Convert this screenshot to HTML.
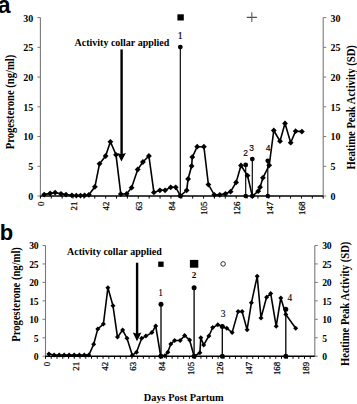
<!DOCTYPE html>
<html><head><meta charset="utf-8"><style>
html,body{margin:0;padding:0;background:#fff;}
body{width:357px;height:404px;position:relative;overflow:hidden;font-family:"Liberation Serif",serif;}
</style></head><body>
<svg width="357" height="404" viewBox="0 0 357 404" style="position:absolute;left:0;top:0">
<rect width="357" height="404" fill="#fff"/>
<text x="-2.3" y="12.5" font-size="23" text-anchor="start" font-weight="bold" font-family="Liberation Sans" fill="#000">a</text>
<text x="-0.2" y="240.2" font-size="22" text-anchor="start" font-weight="bold" font-family="Liberation Sans" fill="#000">b</text>
<line x1="40.4" y1="17.6" x2="40.4" y2="196" stroke="#7a7a7a" stroke-width="1.1"/>
<line x1="323.2" y1="17.6" x2="323.2" y2="196" stroke="#7a7a7a" stroke-width="1.1"/>
<line x1="37.4" y1="196" x2="40.4" y2="196" stroke="#7a7a7a" stroke-width="1"/>
<line x1="323.2" y1="196" x2="326.2" y2="196" stroke="#7a7a7a" stroke-width="1"/>
<text x="33.3" y="199.9" font-size="10" text-anchor="end" font-weight="bold" font-family="Liberation Serif" fill="#000">0</text>
<text x="330.5" y="199.9" font-size="10" text-anchor="start" font-weight="bold" font-family="Liberation Serif" fill="#000">0</text>
<line x1="37.4" y1="166.27" x2="40.4" y2="166.27" stroke="#7a7a7a" stroke-width="1"/>
<line x1="323.2" y1="166.27" x2="326.2" y2="166.27" stroke="#7a7a7a" stroke-width="1"/>
<text x="33.3" y="170.17" font-size="10" text-anchor="end" font-weight="bold" font-family="Liberation Serif" fill="#000">5</text>
<text x="330.5" y="170.17" font-size="10" text-anchor="start" font-weight="bold" font-family="Liberation Serif" fill="#000">5</text>
<line x1="37.4" y1="136.53" x2="40.4" y2="136.53" stroke="#7a7a7a" stroke-width="1"/>
<line x1="323.2" y1="136.53" x2="326.2" y2="136.53" stroke="#7a7a7a" stroke-width="1"/>
<text x="33.3" y="140.43" font-size="10" text-anchor="end" font-weight="bold" font-family="Liberation Serif" fill="#000">10</text>
<text x="330.5" y="140.43" font-size="10" text-anchor="start" font-weight="bold" font-family="Liberation Serif" fill="#000">10</text>
<line x1="37.4" y1="106.8" x2="40.4" y2="106.8" stroke="#7a7a7a" stroke-width="1"/>
<line x1="323.2" y1="106.8" x2="326.2" y2="106.8" stroke="#7a7a7a" stroke-width="1"/>
<text x="33.3" y="110.7" font-size="10" text-anchor="end" font-weight="bold" font-family="Liberation Serif" fill="#000">15</text>
<text x="330.5" y="110.7" font-size="10" text-anchor="start" font-weight="bold" font-family="Liberation Serif" fill="#000">15</text>
<line x1="37.4" y1="77.07" x2="40.4" y2="77.07" stroke="#7a7a7a" stroke-width="1"/>
<line x1="323.2" y1="77.07" x2="326.2" y2="77.07" stroke="#7a7a7a" stroke-width="1"/>
<text x="33.3" y="80.97" font-size="10" text-anchor="end" font-weight="bold" font-family="Liberation Serif" fill="#000">20</text>
<text x="330.5" y="80.97" font-size="10" text-anchor="start" font-weight="bold" font-family="Liberation Serif" fill="#000">20</text>
<line x1="37.4" y1="47.33" x2="40.4" y2="47.33" stroke="#7a7a7a" stroke-width="1"/>
<line x1="323.2" y1="47.33" x2="326.2" y2="47.33" stroke="#7a7a7a" stroke-width="1"/>
<text x="33.3" y="51.23" font-size="10" text-anchor="end" font-weight="bold" font-family="Liberation Serif" fill="#000">25</text>
<text x="330.5" y="51.23" font-size="10" text-anchor="start" font-weight="bold" font-family="Liberation Serif" fill="#000">25</text>
<line x1="37.4" y1="17.6" x2="40.4" y2="17.6" stroke="#7a7a7a" stroke-width="1"/>
<line x1="323.2" y1="17.6" x2="326.2" y2="17.6" stroke="#7a7a7a" stroke-width="1"/>
<text x="33.3" y="21.5" font-size="10" text-anchor="end" font-weight="bold" font-family="Liberation Serif" fill="#000">30</text>
<text x="330.5" y="21.5" font-size="10" text-anchor="start" font-weight="bold" font-family="Liberation Serif" fill="#000">30</text>
<line x1="40.4" y1="196" x2="323.2" y2="196" stroke="#000" stroke-width="1.6"/>
<line x1="40.4" y1="196" x2="40.4" y2="198.6" stroke="#000" stroke-width="1"/>
<line x1="51.28" y1="196" x2="51.28" y2="198.6" stroke="#000" stroke-width="1"/>
<line x1="62.15" y1="196" x2="62.15" y2="198.6" stroke="#000" stroke-width="1"/>
<line x1="73.03" y1="196" x2="73.03" y2="198.6" stroke="#000" stroke-width="1"/>
<line x1="83.91" y1="196" x2="83.91" y2="198.6" stroke="#000" stroke-width="1"/>
<line x1="94.78" y1="196" x2="94.78" y2="198.6" stroke="#000" stroke-width="1"/>
<line x1="105.66" y1="196" x2="105.66" y2="198.6" stroke="#000" stroke-width="1"/>
<line x1="116.54" y1="196" x2="116.54" y2="198.6" stroke="#000" stroke-width="1"/>
<line x1="127.42" y1="196" x2="127.42" y2="198.6" stroke="#000" stroke-width="1"/>
<line x1="138.29" y1="196" x2="138.29" y2="198.6" stroke="#000" stroke-width="1"/>
<line x1="149.17" y1="196" x2="149.17" y2="198.6" stroke="#000" stroke-width="1"/>
<line x1="160.05" y1="196" x2="160.05" y2="198.6" stroke="#000" stroke-width="1"/>
<line x1="170.92" y1="196" x2="170.92" y2="198.6" stroke="#000" stroke-width="1"/>
<line x1="181.8" y1="196" x2="181.8" y2="198.6" stroke="#000" stroke-width="1"/>
<line x1="192.68" y1="196" x2="192.68" y2="198.6" stroke="#000" stroke-width="1"/>
<line x1="203.55" y1="196" x2="203.55" y2="198.6" stroke="#000" stroke-width="1"/>
<line x1="214.43" y1="196" x2="214.43" y2="198.6" stroke="#000" stroke-width="1"/>
<line x1="225.31" y1="196" x2="225.31" y2="198.6" stroke="#000" stroke-width="1"/>
<line x1="236.18" y1="196" x2="236.18" y2="198.6" stroke="#000" stroke-width="1"/>
<line x1="247.06" y1="196" x2="247.06" y2="198.6" stroke="#000" stroke-width="1"/>
<line x1="257.94" y1="196" x2="257.94" y2="198.6" stroke="#000" stroke-width="1"/>
<line x1="268.82" y1="196" x2="268.82" y2="198.6" stroke="#000" stroke-width="1"/>
<line x1="279.69" y1="196" x2="279.69" y2="198.6" stroke="#000" stroke-width="1"/>
<line x1="290.57" y1="196" x2="290.57" y2="198.6" stroke="#000" stroke-width="1"/>
<line x1="301.45" y1="196" x2="301.45" y2="198.6" stroke="#000" stroke-width="1"/>
<line x1="312.32" y1="196" x2="312.32" y2="198.6" stroke="#000" stroke-width="1"/>
<line x1="323.2" y1="196" x2="323.2" y2="198.6" stroke="#000" stroke-width="1"/>
<text x="44.19" y="201.7" font-size="8.8" text-anchor="end" font-weight="normal" font-family="Liberation Serif" fill="#000" transform="rotate(-90 44.19 201.7)" stroke="#000" stroke-width="0.25">0</text>
<text x="76.82" y="201.7" font-size="8.8" text-anchor="end" font-weight="normal" font-family="Liberation Serif" fill="#000" transform="rotate(-90 76.82 201.7)" stroke="#000" stroke-width="0.25">21</text>
<text x="109.45" y="201.7" font-size="8.8" text-anchor="end" font-weight="normal" font-family="Liberation Serif" fill="#000" transform="rotate(-90 109.45 201.7)" stroke="#000" stroke-width="0.25">42</text>
<text x="142.08" y="201.7" font-size="8.8" text-anchor="end" font-weight="normal" font-family="Liberation Serif" fill="#000" transform="rotate(-90 142.08 201.7)" stroke="#000" stroke-width="0.25">63</text>
<text x="174.72" y="201.7" font-size="8.8" text-anchor="end" font-weight="normal" font-family="Liberation Serif" fill="#000" transform="rotate(-90 174.72 201.7)" stroke="#000" stroke-width="0.25">84</text>
<text x="207.35" y="201.7" font-size="8.8" text-anchor="end" font-weight="normal" font-family="Liberation Serif" fill="#000" transform="rotate(-90 207.35 201.7)" stroke="#000" stroke-width="0.25">105</text>
<text x="239.98" y="201.7" font-size="8.8" text-anchor="end" font-weight="normal" font-family="Liberation Serif" fill="#000" transform="rotate(-90 239.98 201.7)" stroke="#000" stroke-width="0.25">126</text>
<text x="272.61" y="201.7" font-size="8.8" text-anchor="end" font-weight="normal" font-family="Liberation Serif" fill="#000" transform="rotate(-90 272.61 201.7)" stroke="#000" stroke-width="0.25">147</text>
<text x="305.24" y="201.7" font-size="8.8" text-anchor="end" font-weight="normal" font-family="Liberation Serif" fill="#000" transform="rotate(-90 305.24 201.7)" stroke="#000" stroke-width="0.25">168</text>
<text x="0" y="0" font-size="10.6" text-anchor="middle" font-weight="bold" font-family="Liberation Serif" fill="#000" transform="translate(14 102) rotate(-90) scale(1 1.1)">Progesterone (ng/ml)</text>
<text x="0" y="0" font-size="10.6" text-anchor="middle" font-weight="bold" font-family="Liberation Serif" fill="#000" transform="translate(354.8 107.3) rotate(-90) scale(1 1.1)">Heatime Peak Activity (SD)</text>
<line x1="180.3" y1="47.1" x2="180.3" y2="196" stroke="#000" stroke-width="1.15"/>
<line x1="245.7" y1="164.9" x2="245.7" y2="196" stroke="#000" stroke-width="1.15"/>
<line x1="252.3" y1="159.1" x2="252.3" y2="196" stroke="#000" stroke-width="1.15"/>
<line x1="267.8" y1="160.8" x2="267.8" y2="196" stroke="#000" stroke-width="1.15"/>
<polyline points="44.2,194.6 50.1,193.4 55.1,192.6 61,193.8 66,194.6 71.9,195.3 76.3,195.6 80.5,195.6 84.6,195.3 88.9,194.8 94.9,186.8 99.5,163.8 105.6,156 110.4,141.8 116,154.8 120.8,194.1 126.7,193.8 131.6,187.7 137.7,169.5 142.9,162 148.9,156 153.9,192.4 159.9,190.3 165.1,190.3 170.7,187.3 175.7,187.3 180.4,195.8 186.7,190.3 188.1,179 191.6,166 192.3,157.1 197.2,146.7 203.9,146.7 208.4,184.6 214.3,194.8 219.8,194.8 225.5,193.8 230.6,191.7 236.1,182.4 241,165.5 247.5,175.6 252.3,196 258.2,191.2 260.1,187.2 262.9,177.8 269.2,165.3 273.8,130.5 280,141.2 285,123.4 290.7,142.7 295.6,131.2 301.9,131.6" fill="none" stroke="#000" stroke-width="1.6" stroke-linejoin="miter"/>
<path d="M44.2 191.7L47.1 194.6L44.2 197.5L41.3 194.6Z" fill="#000"/>
<path d="M50.1 190.5L53 193.4L50.1 196.3L47.2 193.4Z" fill="#000"/>
<path d="M55.1 189.7L58 192.6L55.1 195.5L52.2 192.6Z" fill="#000"/>
<path d="M61 190.9L63.9 193.8L61 196.7L58.1 193.8Z" fill="#000"/>
<path d="M66 191.7L68.9 194.6L66 197.5L63.1 194.6Z" fill="#000"/>
<path d="M71.9 192.4L74.8 195.3L71.9 198.2L69 195.3Z" fill="#000"/>
<path d="M76.3 192.7L79.2 195.6L76.3 198.5L73.4 195.6Z" fill="#000"/>
<path d="M80.5 192.7L83.4 195.6L80.5 198.5L77.6 195.6Z" fill="#000"/>
<path d="M84.6 192.4L87.5 195.3L84.6 198.2L81.7 195.3Z" fill="#000"/>
<path d="M88.9 191.9L91.8 194.8L88.9 197.7L86 194.8Z" fill="#000"/>
<path d="M94.9 183.9L97.8 186.8L94.9 189.7L92 186.8Z" fill="#000"/>
<path d="M99.5 160.9L102.4 163.8L99.5 166.7L96.6 163.8Z" fill="#000"/>
<path d="M105.6 153.1L108.5 156L105.6 158.9L102.7 156Z" fill="#000"/>
<path d="M110.4 138.9L113.3 141.8L110.4 144.7L107.5 141.8Z" fill="#000"/>
<path d="M116 151.9L118.9 154.8L116 157.7L113.1 154.8Z" fill="#000"/>
<path d="M120.8 191.2L123.7 194.1L120.8 197L117.9 194.1Z" fill="#000"/>
<path d="M126.7 190.9L129.6 193.8L126.7 196.7L123.8 193.8Z" fill="#000"/>
<path d="M131.6 184.8L134.5 187.7L131.6 190.6L128.7 187.7Z" fill="#000"/>
<path d="M137.7 166.6L140.6 169.5L137.7 172.4L134.8 169.5Z" fill="#000"/>
<path d="M142.9 159.1L145.8 162L142.9 164.9L140 162Z" fill="#000"/>
<path d="M148.9 153.1L151.8 156L148.9 158.9L146 156Z" fill="#000"/>
<path d="M153.9 189.5L156.8 192.4L153.9 195.3L151 192.4Z" fill="#000"/>
<path d="M159.9 187.4L162.8 190.3L159.9 193.2L157 190.3Z" fill="#000"/>
<path d="M165.1 187.4L168 190.3L165.1 193.2L162.2 190.3Z" fill="#000"/>
<path d="M170.7 184.4L173.6 187.3L170.7 190.2L167.8 187.3Z" fill="#000"/>
<path d="M175.7 184.4L178.6 187.3L175.7 190.2L172.8 187.3Z" fill="#000"/>
<path d="M180.4 192.9L183.3 195.8L180.4 198.7L177.5 195.8Z" fill="#000"/>
<path d="M186.7 187.4L189.6 190.3L186.7 193.2L183.8 190.3Z" fill="#000"/>
<path d="M188.1 176.1L191 179L188.1 181.9L185.2 179Z" fill="#000"/>
<path d="M191.6 163.1L194.5 166L191.6 168.9L188.7 166Z" fill="#000"/>
<path d="M192.3 154.2L195.2 157.1L192.3 160L189.4 157.1Z" fill="#000"/>
<path d="M197.2 143.8L200.1 146.7L197.2 149.6L194.3 146.7Z" fill="#000"/>
<path d="M203.9 143.8L206.8 146.7L203.9 149.6L201 146.7Z" fill="#000"/>
<path d="M208.4 181.7L211.3 184.6L208.4 187.5L205.5 184.6Z" fill="#000"/>
<path d="M214.3 191.9L217.2 194.8L214.3 197.7L211.4 194.8Z" fill="#000"/>
<path d="M219.8 191.9L222.7 194.8L219.8 197.7L216.9 194.8Z" fill="#000"/>
<path d="M225.5 190.9L228.4 193.8L225.5 196.7L222.6 193.8Z" fill="#000"/>
<path d="M230.6 188.8L233.5 191.7L230.6 194.6L227.7 191.7Z" fill="#000"/>
<path d="M236.1 179.5L239 182.4L236.1 185.3L233.2 182.4Z" fill="#000"/>
<path d="M241 162.6L243.9 165.5L241 168.4L238.1 165.5Z" fill="#000"/>
<path d="M247.5 172.7L250.4 175.6L247.5 178.5L244.6 175.6Z" fill="#000"/>
<path d="M252.3 193.1L255.2 196L252.3 198.9L249.4 196Z" fill="#000"/>
<path d="M258.2 188.3L261.1 191.2L258.2 194.1L255.3 191.2Z" fill="#000"/>
<path d="M260.1 184.3L263 187.2L260.1 190.1L257.2 187.2Z" fill="#000"/>
<path d="M262.9 174.9L265.8 177.8L262.9 180.7L260 177.8Z" fill="#000"/>
<path d="M269.2 162.4L272.1 165.3L269.2 168.2L266.3 165.3Z" fill="#000"/>
<path d="M273.8 127.6L276.7 130.5L273.8 133.4L270.9 130.5Z" fill="#000"/>
<path d="M280 138.3L282.9 141.2L280 144.1L277.1 141.2Z" fill="#000"/>
<path d="M285 120.5L287.9 123.4L285 126.3L282.1 123.4Z" fill="#000"/>
<path d="M290.7 139.8L293.6 142.7L290.7 145.6L287.8 142.7Z" fill="#000"/>
<path d="M295.6 128.3L298.5 131.2L295.6 134.1L292.7 131.2Z" fill="#000"/>
<path d="M301.9 128.7L304.8 131.6L301.9 134.5L299 131.6Z" fill="#000"/>
<circle cx="180.3" cy="47.1" r="2.4" fill="#000"/>
<circle cx="180.3" cy="196" r="2.3" fill="#000"/>
<circle cx="245.7" cy="164.9" r="2.4" fill="#000"/>
<circle cx="245.7" cy="196" r="2.3" fill="#000"/>
<circle cx="252.3" cy="159.1" r="2.4" fill="#000"/>
<circle cx="252.3" cy="196" r="2.3" fill="#000"/>
<circle cx="267.8" cy="160.8" r="2.4" fill="#000"/>
<circle cx="267.8" cy="196" r="2.3" fill="#000"/>
<text x="180.2" y="38.9" font-size="9.8" text-anchor="middle" font-weight="normal" font-family="Liberation Serif" fill="#000" stroke="#000" stroke-width="0.2">1</text>
<text x="245.6" y="156.3" font-size="8.4" text-anchor="middle" font-weight="normal" font-family="Liberation Sans" fill="#000" stroke="#000" stroke-width="0.15">2</text>
<text x="251.7" y="150.6" font-size="8.4" text-anchor="middle" font-weight="normal" font-family="Liberation Sans" fill="#000" stroke="#000" stroke-width="0.15">3</text>
<text x="268.2" y="151.3" font-size="8.4" text-anchor="middle" font-weight="normal" font-family="Liberation Sans" fill="#000" stroke="#000" stroke-width="0.15">4</text>
<rect x="177.4" y="14.3" width="6.4" height="6.2" fill="#000"/>
<path d="M246.8 17.3H256.9" stroke="#222" stroke-width="1"/><path d="M251.8 12.3V21.9" stroke="#666" stroke-width="1.2"/>
<line x1="121.6" y1="49.4" x2="121.6" y2="156" stroke="#000" stroke-width="2.4"/>
<path d="M117.3 153.0L121.6 154.2L125.9 153.0L121.4 161.6Z" fill="#000"/>
<text x="74.5" y="46.2" font-size="10" text-anchor="start" font-weight="bold" font-family="Liberation Serif" fill="#000">Activity collar applied</text>
<line x1="45.5" y1="245.5" x2="45.5" y2="356.2" stroke="#7a7a7a" stroke-width="1.1"/>
<line x1="314.8" y1="245.5" x2="314.8" y2="356.2" stroke="#7a7a7a" stroke-width="1.1"/>
<line x1="42.5" y1="356.2" x2="45.5" y2="356.2" stroke="#7a7a7a" stroke-width="1"/>
<line x1="314.8" y1="356.2" x2="317.8" y2="356.2" stroke="#7a7a7a" stroke-width="1"/>
<text x="38.4" y="360.1" font-size="9.7" text-anchor="end" font-weight="bold" font-family="Liberation Serif" fill="#000" letter-spacing="-0.3">0</text>
<text x="322.3" y="360.1" font-size="9.7" text-anchor="start" font-weight="bold" font-family="Liberation Serif" fill="#000" letter-spacing="-0.3">0</text>
<line x1="42.5" y1="337.75" x2="45.5" y2="337.75" stroke="#7a7a7a" stroke-width="1"/>
<line x1="314.8" y1="337.75" x2="317.8" y2="337.75" stroke="#7a7a7a" stroke-width="1"/>
<text x="38.4" y="341.65" font-size="9.7" text-anchor="end" font-weight="bold" font-family="Liberation Serif" fill="#000" letter-spacing="-0.3">5</text>
<text x="322.3" y="341.65" font-size="9.7" text-anchor="start" font-weight="bold" font-family="Liberation Serif" fill="#000" letter-spacing="-0.3">5</text>
<line x1="42.5" y1="319.3" x2="45.5" y2="319.3" stroke="#7a7a7a" stroke-width="1"/>
<line x1="314.8" y1="319.3" x2="317.8" y2="319.3" stroke="#7a7a7a" stroke-width="1"/>
<text x="38.4" y="323.2" font-size="9.7" text-anchor="end" font-weight="bold" font-family="Liberation Serif" fill="#000" letter-spacing="-0.3">10</text>
<text x="322.3" y="323.2" font-size="9.7" text-anchor="start" font-weight="bold" font-family="Liberation Serif" fill="#000" letter-spacing="-0.3">10</text>
<line x1="42.5" y1="300.85" x2="45.5" y2="300.85" stroke="#7a7a7a" stroke-width="1"/>
<line x1="314.8" y1="300.85" x2="317.8" y2="300.85" stroke="#7a7a7a" stroke-width="1"/>
<text x="38.4" y="304.75" font-size="9.7" text-anchor="end" font-weight="bold" font-family="Liberation Serif" fill="#000" letter-spacing="-0.3">15</text>
<text x="322.3" y="304.75" font-size="9.7" text-anchor="start" font-weight="bold" font-family="Liberation Serif" fill="#000" letter-spacing="-0.3">15</text>
<line x1="42.5" y1="282.4" x2="45.5" y2="282.4" stroke="#7a7a7a" stroke-width="1"/>
<line x1="314.8" y1="282.4" x2="317.8" y2="282.4" stroke="#7a7a7a" stroke-width="1"/>
<text x="38.4" y="286.3" font-size="9.7" text-anchor="end" font-weight="bold" font-family="Liberation Serif" fill="#000" letter-spacing="-0.3">20</text>
<text x="322.3" y="286.3" font-size="9.7" text-anchor="start" font-weight="bold" font-family="Liberation Serif" fill="#000" letter-spacing="-0.3">20</text>
<line x1="42.5" y1="263.95" x2="45.5" y2="263.95" stroke="#7a7a7a" stroke-width="1"/>
<line x1="314.8" y1="263.95" x2="317.8" y2="263.95" stroke="#7a7a7a" stroke-width="1"/>
<text x="38.4" y="267.85" font-size="9.7" text-anchor="end" font-weight="bold" font-family="Liberation Serif" fill="#000" letter-spacing="-0.3">25</text>
<text x="322.3" y="267.85" font-size="9.7" text-anchor="start" font-weight="bold" font-family="Liberation Serif" fill="#000" letter-spacing="-0.3">25</text>
<line x1="42.5" y1="245.5" x2="45.5" y2="245.5" stroke="#7a7a7a" stroke-width="1"/>
<line x1="314.8" y1="245.5" x2="317.8" y2="245.5" stroke="#7a7a7a" stroke-width="1"/>
<text x="38.4" y="249.4" font-size="9.7" text-anchor="end" font-weight="bold" font-family="Liberation Serif" fill="#000" letter-spacing="-0.3">30</text>
<text x="322.3" y="249.4" font-size="9.7" text-anchor="start" font-weight="bold" font-family="Liberation Serif" fill="#000" letter-spacing="-0.3">30</text>
<line x1="45.5" y1="356.2" x2="314.8" y2="356.2" stroke="#000" stroke-width="1.6"/>
<line x1="45.5" y1="356.2" x2="45.5" y2="358.8" stroke="#000" stroke-width="1"/>
<line x1="51.26" y1="356.2" x2="51.26" y2="358.8" stroke="#000" stroke-width="1"/>
<line x1="57.01" y1="356.2" x2="57.01" y2="358.8" stroke="#000" stroke-width="1"/>
<line x1="62.77" y1="356.2" x2="62.77" y2="358.8" stroke="#000" stroke-width="1"/>
<line x1="68.52" y1="356.2" x2="68.52" y2="358.8" stroke="#000" stroke-width="1"/>
<line x1="74.28" y1="356.2" x2="74.28" y2="358.8" stroke="#000" stroke-width="1"/>
<line x1="80.04" y1="356.2" x2="80.04" y2="358.8" stroke="#000" stroke-width="1"/>
<line x1="85.79" y1="356.2" x2="85.79" y2="358.8" stroke="#000" stroke-width="1"/>
<line x1="91.55" y1="356.2" x2="91.55" y2="358.8" stroke="#000" stroke-width="1"/>
<line x1="97.3" y1="356.2" x2="97.3" y2="358.8" stroke="#000" stroke-width="1"/>
<line x1="103.06" y1="356.2" x2="103.06" y2="358.8" stroke="#000" stroke-width="1"/>
<line x1="108.82" y1="356.2" x2="108.82" y2="358.8" stroke="#000" stroke-width="1"/>
<line x1="114.57" y1="356.2" x2="114.57" y2="358.8" stroke="#000" stroke-width="1"/>
<line x1="120.33" y1="356.2" x2="120.33" y2="358.8" stroke="#000" stroke-width="1"/>
<line x1="126.08" y1="356.2" x2="126.08" y2="358.8" stroke="#000" stroke-width="1"/>
<line x1="131.84" y1="356.2" x2="131.84" y2="358.8" stroke="#000" stroke-width="1"/>
<line x1="137.6" y1="356.2" x2="137.6" y2="358.8" stroke="#000" stroke-width="1"/>
<line x1="143.35" y1="356.2" x2="143.35" y2="358.8" stroke="#000" stroke-width="1"/>
<line x1="149.11" y1="356.2" x2="149.11" y2="358.8" stroke="#000" stroke-width="1"/>
<line x1="154.86" y1="356.2" x2="154.86" y2="358.8" stroke="#000" stroke-width="1"/>
<line x1="160.62" y1="356.2" x2="160.62" y2="358.8" stroke="#000" stroke-width="1"/>
<line x1="166.38" y1="356.2" x2="166.38" y2="358.8" stroke="#000" stroke-width="1"/>
<line x1="172.13" y1="356.2" x2="172.13" y2="358.8" stroke="#000" stroke-width="1"/>
<line x1="177.89" y1="356.2" x2="177.89" y2="358.8" stroke="#000" stroke-width="1"/>
<line x1="183.64" y1="356.2" x2="183.64" y2="358.8" stroke="#000" stroke-width="1"/>
<line x1="189.4" y1="356.2" x2="189.4" y2="358.8" stroke="#000" stroke-width="1"/>
<line x1="195.16" y1="356.2" x2="195.16" y2="358.8" stroke="#000" stroke-width="1"/>
<line x1="200.91" y1="356.2" x2="200.91" y2="358.8" stroke="#000" stroke-width="1"/>
<line x1="206.67" y1="356.2" x2="206.67" y2="358.8" stroke="#000" stroke-width="1"/>
<line x1="212.42" y1="356.2" x2="212.42" y2="358.8" stroke="#000" stroke-width="1"/>
<line x1="218.18" y1="356.2" x2="218.18" y2="358.8" stroke="#000" stroke-width="1"/>
<line x1="223.94" y1="356.2" x2="223.94" y2="358.8" stroke="#000" stroke-width="1"/>
<line x1="229.69" y1="356.2" x2="229.69" y2="358.8" stroke="#000" stroke-width="1"/>
<line x1="235.45" y1="356.2" x2="235.45" y2="358.8" stroke="#000" stroke-width="1"/>
<line x1="241.21" y1="356.2" x2="241.21" y2="358.8" stroke="#000" stroke-width="1"/>
<line x1="246.96" y1="356.2" x2="246.96" y2="358.8" stroke="#000" stroke-width="1"/>
<line x1="252.72" y1="356.2" x2="252.72" y2="358.8" stroke="#000" stroke-width="1"/>
<line x1="258.47" y1="356.2" x2="258.47" y2="358.8" stroke="#000" stroke-width="1"/>
<line x1="264.23" y1="356.2" x2="264.23" y2="358.8" stroke="#000" stroke-width="1"/>
<line x1="269.99" y1="356.2" x2="269.99" y2="358.8" stroke="#000" stroke-width="1"/>
<line x1="275.74" y1="356.2" x2="275.74" y2="358.8" stroke="#000" stroke-width="1"/>
<line x1="281.5" y1="356.2" x2="281.5" y2="358.8" stroke="#000" stroke-width="1"/>
<line x1="287.25" y1="356.2" x2="287.25" y2="358.8" stroke="#000" stroke-width="1"/>
<line x1="293.01" y1="356.2" x2="293.01" y2="358.8" stroke="#000" stroke-width="1"/>
<line x1="298.77" y1="356.2" x2="298.77" y2="358.8" stroke="#000" stroke-width="1"/>
<line x1="304.52" y1="356.2" x2="304.52" y2="358.8" stroke="#000" stroke-width="1"/>
<line x1="310.28" y1="356.2" x2="310.28" y2="358.8" stroke="#000" stroke-width="1"/>
<text x="50.09" y="361.9" font-size="8.8" text-anchor="end" font-weight="normal" font-family="Liberation Serif" fill="#000" transform="rotate(-90 50.09 361.9)" stroke="#000" stroke-width="0.25">0</text>
<text x="78.87" y="361.9" font-size="8.8" text-anchor="end" font-weight="normal" font-family="Liberation Serif" fill="#000" transform="rotate(-90 78.87 361.9)" stroke="#000" stroke-width="0.25">21</text>
<text x="107.65" y="361.9" font-size="8.8" text-anchor="end" font-weight="normal" font-family="Liberation Serif" fill="#000" transform="rotate(-90 107.65 361.9)" stroke="#000" stroke-width="0.25">42</text>
<text x="136.43" y="361.9" font-size="8.8" text-anchor="end" font-weight="normal" font-family="Liberation Serif" fill="#000" transform="rotate(-90 136.43 361.9)" stroke="#000" stroke-width="0.25">63</text>
<text x="165.21" y="361.9" font-size="8.8" text-anchor="end" font-weight="normal" font-family="Liberation Serif" fill="#000" transform="rotate(-90 165.21 361.9)" stroke="#000" stroke-width="0.25">84</text>
<text x="193.99" y="361.9" font-size="8.8" text-anchor="end" font-weight="normal" font-family="Liberation Serif" fill="#000" transform="rotate(-90 193.99 361.9)" stroke="#000" stroke-width="0.25">105</text>
<text x="222.77" y="361.9" font-size="8.8" text-anchor="end" font-weight="normal" font-family="Liberation Serif" fill="#000" transform="rotate(-90 222.77 361.9)" stroke="#000" stroke-width="0.25">126</text>
<text x="251.55" y="361.9" font-size="8.8" text-anchor="end" font-weight="normal" font-family="Liberation Serif" fill="#000" transform="rotate(-90 251.55 361.9)" stroke="#000" stroke-width="0.25">147</text>
<text x="280.33" y="361.9" font-size="8.8" text-anchor="end" font-weight="normal" font-family="Liberation Serif" fill="#000" transform="rotate(-90 280.33 361.9)" stroke="#000" stroke-width="0.25">168</text>
<text x="309.11" y="361.9" font-size="8.8" text-anchor="end" font-weight="normal" font-family="Liberation Serif" fill="#000" transform="rotate(-90 309.11 361.9)" stroke="#000" stroke-width="0.25">189</text>
<text x="0" y="0" font-size="10.6" text-anchor="middle" font-weight="bold" font-family="Liberation Serif" fill="#000" transform="translate(20.3 294.4) rotate(-90) scale(1 1.1)">Progesterone (ng/ml)</text>
<text x="0" y="0" font-size="10.6" text-anchor="middle" font-weight="bold" font-family="Liberation Serif" fill="#000" transform="translate(349.1 303.8) rotate(-90) scale(1 1.1)">Heatime Peak Activity (SD)</text>
<line x1="161" y1="304.2" x2="161" y2="356.2" stroke="#000" stroke-width="1.3"/>
<line x1="194.1" y1="287.8" x2="194.1" y2="356.2" stroke="#000" stroke-width="1.3"/>
<line x1="222.3" y1="326.6" x2="222.3" y2="356.2" stroke="#000" stroke-width="1.3"/>
<line x1="285.8" y1="309.2" x2="285.8" y2="356.2" stroke="#000" stroke-width="1.3"/>
<polyline points="48.9,354 54.1,355.1 59.2,355.1 64.2,355.1 69.1,355.1 74.2,355.1 79.4,355.1 84.3,355.1 88.8,355.1 93.7,344.3 97.8,328.9 103.4,324.1 107.9,287.8 113,305.8 117.5,337.1 122.6,330.1 127,338.2 132.3,355.3 136.5,352.2 141.7,338.2 145.9,336.1 151.9,332.6 155.7,325.9 160.6,355.7 164.9,355.7 167.8,352.2 170.8,343.9 174.6,340.5 180.2,340.5 184.6,335.6 189.6,340 194.1,356.2 199.9,352.8 200.8,337.8 203.7,345 208.9,336 212.7,327.5 217.8,324.8 222.3,326.6 226.8,328.2 232.1,332.6 238.1,311.6 242.1,311.6 247.1,329.7 251.4,302.8 257.2,276.3 261,317.9 266.6,297.2 270.7,293.6 276.2,326.3 280.8,298 285.8,314.4 295.7,328.2" fill="none" stroke="#000" stroke-width="1.6" stroke-linejoin="miter"/>
<path d="M48.9 351.5L51.4 354L48.9 356.5L46.4 354Z" fill="#000"/>
<path d="M54.1 352.6L56.6 355.1L54.1 357.6L51.6 355.1Z" fill="#000"/>
<path d="M59.2 352.6L61.7 355.1L59.2 357.6L56.7 355.1Z" fill="#000"/>
<path d="M64.2 352.6L66.7 355.1L64.2 357.6L61.7 355.1Z" fill="#000"/>
<path d="M69.1 352.6L71.6 355.1L69.1 357.6L66.6 355.1Z" fill="#000"/>
<path d="M74.2 352.6L76.7 355.1L74.2 357.6L71.7 355.1Z" fill="#000"/>
<path d="M79.4 352.6L81.9 355.1L79.4 357.6L76.9 355.1Z" fill="#000"/>
<path d="M84.3 352.6L86.8 355.1L84.3 357.6L81.8 355.1Z" fill="#000"/>
<path d="M88.8 352.6L91.3 355.1L88.8 357.6L86.3 355.1Z" fill="#000"/>
<path d="M93.7 341.8L96.2 344.3L93.7 346.8L91.2 344.3Z" fill="#000"/>
<path d="M97.8 326.4L100.3 328.9L97.8 331.4L95.3 328.9Z" fill="#000"/>
<path d="M103.4 321.6L105.9 324.1L103.4 326.6L100.9 324.1Z" fill="#000"/>
<path d="M107.9 285.3L110.4 287.8L107.9 290.3L105.4 287.8Z" fill="#000"/>
<path d="M113 303.3L115.5 305.8L113 308.3L110.5 305.8Z" fill="#000"/>
<path d="M117.5 334.6L120 337.1L117.5 339.6L115 337.1Z" fill="#000"/>
<path d="M122.6 327.6L125.1 330.1L122.6 332.6L120.1 330.1Z" fill="#000"/>
<path d="M127 335.7L129.5 338.2L127 340.7L124.5 338.2Z" fill="#000"/>
<path d="M132.3 352.8L134.8 355.3L132.3 357.8L129.8 355.3Z" fill="#000"/>
<path d="M136.5 349.7L139 352.2L136.5 354.7L134 352.2Z" fill="#000"/>
<path d="M141.7 335.7L144.2 338.2L141.7 340.7L139.2 338.2Z" fill="#000"/>
<path d="M145.9 333.6L148.4 336.1L145.9 338.6L143.4 336.1Z" fill="#000"/>
<path d="M151.9 330.1L154.4 332.6L151.9 335.1L149.4 332.6Z" fill="#000"/>
<path d="M155.7 323.4L158.2 325.9L155.7 328.4L153.2 325.9Z" fill="#000"/>
<path d="M160.6 353.2L163.1 355.7L160.6 358.2L158.1 355.7Z" fill="#000"/>
<path d="M164.9 353.2L167.4 355.7L164.9 358.2L162.4 355.7Z" fill="#000"/>
<path d="M167.8 349.7L170.3 352.2L167.8 354.7L165.3 352.2Z" fill="#000"/>
<path d="M170.8 341.4L173.3 343.9L170.8 346.4L168.3 343.9Z" fill="#000"/>
<path d="M174.6 338L177.1 340.5L174.6 343L172.1 340.5Z" fill="#000"/>
<path d="M180.2 338L182.7 340.5L180.2 343L177.7 340.5Z" fill="#000"/>
<path d="M184.6 333.1L187.1 335.6L184.6 338.1L182.1 335.6Z" fill="#000"/>
<path d="M189.6 337.5L192.1 340L189.6 342.5L187.1 340Z" fill="#000"/>
<path d="M194.1 353.7L196.6 356.2L194.1 358.7L191.6 356.2Z" fill="#000"/>
<path d="M199.9 350.3L202.4 352.8L199.9 355.3L197.4 352.8Z" fill="#000"/>
<path d="M200.8 335.3L203.3 337.8L200.8 340.3L198.3 337.8Z" fill="#000"/>
<path d="M203.7 342.5L206.2 345L203.7 347.5L201.2 345Z" fill="#000"/>
<path d="M208.9 333.5L211.4 336L208.9 338.5L206.4 336Z" fill="#000"/>
<path d="M212.7 325L215.2 327.5L212.7 330L210.2 327.5Z" fill="#000"/>
<path d="M217.8 322.3L220.3 324.8L217.8 327.3L215.3 324.8Z" fill="#000"/>
<path d="M222.3 324.1L224.8 326.6L222.3 329.1L219.8 326.6Z" fill="#000"/>
<path d="M226.8 325.7L229.3 328.2L226.8 330.7L224.3 328.2Z" fill="#000"/>
<path d="M232.1 330.1L234.6 332.6L232.1 335.1L229.6 332.6Z" fill="#000"/>
<path d="M238.1 309.1L240.6 311.6L238.1 314.1L235.6 311.6Z" fill="#000"/>
<path d="M242.1 309.1L244.6 311.6L242.1 314.1L239.6 311.6Z" fill="#000"/>
<path d="M247.1 327.2L249.6 329.7L247.1 332.2L244.6 329.7Z" fill="#000"/>
<path d="M251.4 300.3L253.9 302.8L251.4 305.3L248.9 302.8Z" fill="#000"/>
<path d="M257.2 273.8L259.7 276.3L257.2 278.8L254.7 276.3Z" fill="#000"/>
<path d="M261 315.4L263.5 317.9L261 320.4L258.5 317.9Z" fill="#000"/>
<path d="M266.6 294.7L269.1 297.2L266.6 299.7L264.1 297.2Z" fill="#000"/>
<path d="M270.7 291.1L273.2 293.6L270.7 296.1L268.2 293.6Z" fill="#000"/>
<path d="M276.2 323.8L278.7 326.3L276.2 328.8L273.7 326.3Z" fill="#000"/>
<path d="M280.8 295.5L283.3 298L280.8 300.5L278.3 298Z" fill="#000"/>
<path d="M285.8 311.9L288.3 314.4L285.8 316.9L283.3 314.4Z" fill="#000"/>
<path d="M295.7 325.7L298.2 328.2L295.7 330.7L293.2 328.2Z" fill="#000"/>
<circle cx="161" cy="304.2" r="2.5" fill="#000"/>
<circle cx="161" cy="356.2" r="2.5" fill="#000"/>
<circle cx="194.1" cy="287.8" r="2.5" fill="#000"/>
<circle cx="194.1" cy="356.2" r="2.5" fill="#000"/>
<circle cx="222.3" cy="326.6" r="2.5" fill="#000"/>
<circle cx="222.3" cy="356.2" r="2.5" fill="#000"/>
<circle cx="285.8" cy="309.2" r="2.5" fill="#000"/>
<circle cx="285.8" cy="356.2" r="2.5" fill="#000"/>
<text x="160.6" y="296.2" font-size="9.5" text-anchor="middle" font-weight="normal" font-family="Liberation Serif" fill="#000" stroke="#000" stroke-width="0.1">1</text>
<text x="194" y="278.3" font-size="9.2" text-anchor="middle" font-weight="bold" font-family="Liberation Serif" fill="#000">2</text>
<text x="223" y="316.5" font-size="9.5" text-anchor="middle" font-weight="normal" font-family="Liberation Serif" fill="#000" stroke="#000" stroke-width="0.12">3</text>
<text x="289.8" y="301.1" font-size="9.4" text-anchor="middle" font-weight="normal" font-family="Liberation Serif" fill="#000" stroke="#000" stroke-width="0.12">4</text>
<rect x="158.2" y="261.6" width="5.4" height="5.3" fill="#000"/>
<rect x="189.9" y="259.9" width="8.4" height="7.8" fill="#000"/>
<circle cx="223.1" cy="263.9" r="2.3" fill="none" stroke="#000" stroke-width="0.8"/>
<line x1="137.1" y1="262.7" x2="137.1" y2="336" stroke="#000" stroke-width="2.4"/>
<path d="M132.8 332.6L137.1 333.8L141.4 332.6L137.0 341.2Z" fill="#000"/>
<text x="67" y="255" font-size="10" text-anchor="start" font-weight="bold" font-family="Liberation Serif" fill="#000">Activity collar applied</text>
<text x="183.7" y="401" font-size="10.35" text-anchor="middle" font-weight="bold" font-family="Liberation Serif" fill="#000">Days Post Partum</text>
</svg>
</body></html>
